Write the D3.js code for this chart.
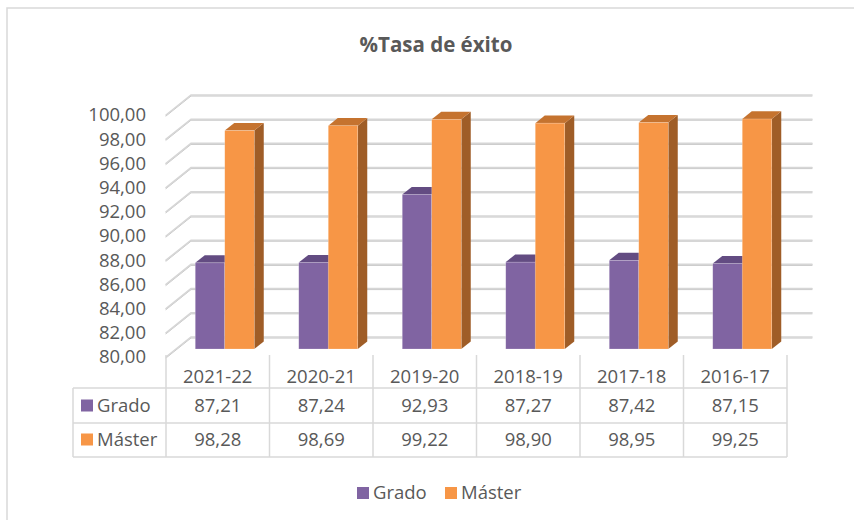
<!DOCTYPE html>
<html>
<head>
<meta charset="utf-8">
<script src="https://cdn.jsdelivr.net/npm/d3@7"></script>
<style>
  html, body { margin: 0; padding: 0; background: #fff; }
  svg { display: block; font-family: "Open Sans", "Noto Sans", sans-serif; }
</style>
</head>
<body>
<svg id="chart" width="854" height="520"></svg>
<script>
// Academic years shown on the category axis
const categories = ["2021-22", "2020-21", "2019-20", "2018-19", "2017-18", "2016-17"];
// Success rate (%) per year
const gradoValues  = [87.21, 87.24, 92.93, 87.27, 87.42, 87.15];
const masterValues = [98.28, 98.69, 99.22, 98.90, 98.95, 99.25];
const seriesNames  = ["Grado", "Máster"];
const yTicks = [80, 82, 84, 86, 88, 90, 92, 94, 96, 98, 100];
const chartTitle = "%Tasa de éxito";

const series = [
  { name: seriesNames[0], values: gradoValues,  front: "#8064A2", top: "#634C82", side: "#5A4577" },
  { name: seriesNames[1], values: masterValues, front: "#F79646", top: "#C5732F", side: "#9F5D27" }
];

const textColor = "#595959";
const gridColor = "#D6D6D6";
const fontSize = 18.5;

const svg = d3.select("#chart");

// Spanish number format: comma as decimal separator
const esLocale = d3.formatLocale({ decimal: ",", thousands: ".", grouping: [3], currency: ["", " €"] });
const fmt2 = esLocale.format(".2f");

// Oblique 3D projection: depth 0 = front plane, depth 1 = back wall
const DEPTH_DX = 25, DEPTH_DY = -20;
const off = d => [DEPTH_DX * d, DEPTH_DY * d];

// Scales on the front plane
const x = d3.scaleBand().domain(categories).range([166, 787]);
const y = d3.scaleLinear().domain([80, 100]).range([357, 115]);

// Column front faces sit a little deeper, where the view is slightly foreshortened
const FRONT_D = 0.4, BACK_D = 0.78;
const [fdx, fdy] = off(FRONT_D);
const yBar = d3.scaleLinear().domain([80, 100]).range([357 + fdy, 357 + fdy - 239]);

// Outer chart frame
svg.append("rect")
  .attr("x", 7).attr("y", 8).attr("width", 900).attr("height", 600)
  .attr("fill", "#fff").attr("stroke", "#D9D9D9").attr("stroke-width", 1.5);

// Title
svg.append("text")
  .attr("x", 436).attr("y", 52)
  .attr("text-anchor", "middle")
  .attr("font-size", 20.5).attr("font-weight", 700)
  .attr("fill", textColor)
  .text(chartTitle);

// Gridlines: along the left wall and across the back wall
const [bx, by] = off(1);
const grid = svg.append("g").attr("fill", "none").attr("stroke-linecap", "round");
yTicks.forEach(v => {
  const x0 = x.range()[0], x1 = x.range()[1];
  const yf = y(v);
  // shadow
  grid.append("path")
    .attr("d", `M${x0},${yf + 1}L${x0 + bx},${yf + by + 1}L${x1 + bx},${yf + by + 1}`)
    .attr("stroke", "#C4C4C4").attr("stroke-width", 1);
  grid.append("path")
    .attr("d", `M${x0},${yf}L${x0 + bx},${yf + by}L${x1 + bx},${yf + by}`)
    .attr("stroke", gridColor).attr("stroke-width", 1.6);
});

// Y axis labels on the front plane
const yAxis = d3.axisLeft(y).tickValues(yTicks).tickFormat(fmt2).tickSize(0).tickPadding(0);
const yAxisG = svg.append("g").attr("transform", "translate(146,0)").call(yAxis);
yAxisG.select(".domain").remove();
yAxisG.selectAll("text")
  .attr("font-size", fontSize).attr("fill", textColor)
  .attr("font-family", "\"Open Sans\", sans-serif");

// 3D columns
const barW = 29.5;
const sdx = DEPTH_DX * (BACK_D - FRONT_D), sdy = DEPTH_DY * (BACK_D - FRONT_D);
const bars = svg.append("g");

categories.forEach((cat, ci) => {
  const center = x(cat) + x.bandwidth() / 2 - 3;
  series.forEach((s, si) => {
    const v = s.values[ci];
    const x0 = center - barW + si * barW + fdx;
    const x1 = x0 + barW;
    const yT = yBar(v);
    const yB = yBar(80);
    const g = bars.append("g");
    // side face
    g.append("path")
      .attr("d", `M${x1},${yT}L${x1 + sdx},${yT + sdy}L${x1 + sdx},${yB + sdy}L${x1},${yB}Z`)
      .attr("fill", s.side);
    // top face
    g.append("path")
      .attr("d", `M${x0},${yT}L${x1},${yT}L${x1 + sdx},${yT + sdy}L${x0 + sdx},${yT + sdy}Z`)
      .attr("fill", s.top);
    // front face
    g.append("rect")
      .attr("x", x0).attr("y", yT)
      .attr("width", barW).attr("height", yB - yT)
      .attr("fill", s.front)
      .attr("stroke", "rgba(255,255,255,0.35)").attr("stroke-width", 0.6);
  });
});

// Data table under the plot
const table = svg.append("g");
const tblTop = 355, rowLines = [388, 423, 457], tblLeft = 73;
const colEdges = categories.map(c => x(c)).concat([x.range()[1]]);
const lineStyle = sel => sel.attr("stroke", "#D9D9D9").attr("stroke-width", 1.5);

rowLines.forEach(ry => {
  table.append("line").attr("x1", tblLeft).attr("x2", x.range()[1]).attr("y1", ry).attr("y2", ry).call(lineStyle);
});
colEdges.forEach(cx => {
  table.append("line").attr("x1", cx).attr("x2", cx).attr("y1", tblTop).attr("y2", rowLines[2]).call(lineStyle);
});
table.append("line").attr("x1", tblLeft).attr("x2", tblLeft).attr("y1", rowLines[0]).attr("y2", rowLines[2]).call(lineStyle);

// Category header row
table.selectAll("text.cat")
  .data(categories).enter().append("text")
  .attr("class", "cat")
  .attr("x", d => x(d) + x.bandwidth() / 2)
  .attr("y", 377)
  .attr("dy", "0.35em")
  .attr("text-anchor", "middle")
  .attr("font-size", fontSize).attr("fill", textColor)
  .text(d => d);

// Value rows
const rowCenters = [405.5, 439.5];
series.forEach((s, si) => {
  const cy = rowCenters[si];
  table.append("rect").attr("x", 81).attr("y", cy - 6).attr("width", 12).attr("height", 12).attr("fill", s.front);
  table.append("text")
    .attr("x", 97).attr("y", cy).attr("dy", "0.35em")
    .attr("font-size", fontSize).attr("fill", textColor)
    .text(s.name);
  table.selectAll(null)
    .data(s.values).enter().append("text")
    .attr("x", (d, i) => x(categories[i]) + x.bandwidth() / 2)
    .attr("y", cy).attr("dy", "0.35em")
    .attr("text-anchor", "middle")
    .attr("font-size", fontSize).attr("fill", textColor)
    .text(d => fmt2(d));
});

// Legend
const legendItems = [{ s: series[0], x: 357 }, { s: series[1], x: 445 }];
const legend = svg.append("g");
legendItems.forEach(it => {
  legend.append("rect").attr("x", it.x).attr("y", 487).attr("width", 12).attr("height", 12).attr("fill", it.s.front);
  legend.append("text")
    .attr("x", it.x + 16).attr("y", 493).attr("dy", "0.35em")
    .attr("font-size", fontSize).attr("fill", textColor)
    .text(it.s.name);
});
</script>
</body>
</html>
